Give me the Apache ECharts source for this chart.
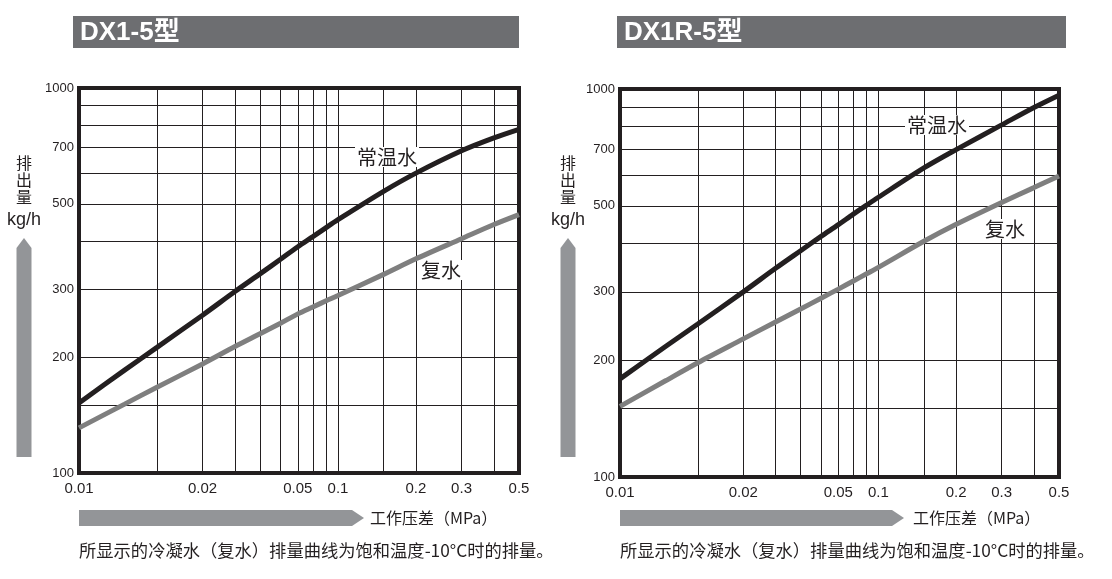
<!DOCTYPE html>
<html><head><meta charset="utf-8">
<script src="https://cdn.jsdelivr.net/npm/echarts@6/dist/echarts.min.js"></script>
<style>html,body{margin:0;padding:0;background:#fff}#c{width:1112px;height:579px}</style>
</head><body><div id="c"></div>
<script>
// ---- data ----
const pressure = [0.01, 0.015, 0.02, 0.03, 0.04, 0.05, 0.06, 0.07, 0.08, 0.09, 0.1, 0.15, 0.2, 0.3, 0.4, 0.5];
// DX1-5型
const dx1Normal     = [152, 185, 212, 257, 296, 329, 359, 387, 411, 434, 455, 539, 601, 687, 742, 781];
const dx1Condensate = [131, 151, 167, 192, 213, 230, 245, 259, 270, 280, 289, 328, 360, 406, 442, 469];
// DX1R-5型
const dx1rNormal     = [179, 217, 248, 300, 345, 383, 417, 447, 476, 502, 526, 626, 698, 808, 896, 964];
const dx1rCondensate = [152, 177, 197, 227, 251, 271, 289, 305, 320, 334, 347, 405, 448, 510, 557, 597];

const panelTitles = ['DX1-5型', 'DX1R-5型'];
const seriesNames = ['常温水', '复水'];
const xGridValues = [0.01, 0.02, 0.03, 0.04, 0.05, 0.06, 0.07, 0.08, 0.09, 0.1, 0.15, 0.2, 0.3, 0.4, 0.5];
const xLabelPositions = [0.01, 0.03, 0.07, 0.1, 0.2, 0.3, 0.5];
const xLabelTexts = ['0.01', '0.02', '0.05', '0.1', '0.2', '0.3', '0.5'];
const yGridValues = [100, 150, 200, 300, 400, 500, 600, 700, 800, 900, 1000];
const yLabelValues = [100, 200, 300, 500, 700, 1000];
const yAxisName = '排出量';
const yUnit = 'kg/h';
const xAxisName = '工作压差（MPa）';
const footnote = '所显示的冷凝水（复水）排量曲线为饱和温度-10°C时的排量。';

// ---- styling ----
const INK = '#231f20';
const GRAY_LINE = '#7f7f7f';
const ARROW = '#939598';
const BAR = '#6d6e71';
const LATIN = '"Liberation Sans", Arial, "Noto Sans CJK SC", sans-serif';
const CJK = '"Noto Sans CJK SC", "Liberation Sans", sans-serif';

function xLabelFor(v) {
  let best = 0, bd = Infinity;
  xLabelPositions.forEach((p, i) => {
    const d = Math.abs(Math.log10(p) - Math.log10(v));
    if (d < bd) { bd = d; best = i; }
  });
  return xLabelTexts[best];
}

const grids = [
  { left: 79, top: 88, width: 440, height: 385 },
  { left: 620, top: 89, width: 439, height: 388 }
];

function makeX(i) {
  return {
    type: 'log', gridIndex: i, min: 0.01, max: 0.5, logBase: 10,
    axisLine: { show: false },
    axisTick: { show: false, customValues: xGridValues },
    splitLine: { show: true, customValues: xGridValues, lineStyle: { color: INK, width: 1 } },
    axisLabel: {
      customValues: xLabelPositions, formatter: xLabelFor,
      color: INK, fontSize: 15, fontFamily: LATIN, margin: 8,
      showMinLabel: true, showMaxLabel: true
    }
  };
}
function makeY(i) {
  return {
    type: 'log', gridIndex: i, min: 100, max: 1000, logBase: 10,
    axisLine: { show: false },
    axisTick: { show: false, customValues: yGridValues },
    splitLine: { show: true, customValues: yGridValues, lineStyle: { color: INK, width: 1 } },
    axisLabel: {
      customValues: yLabelValues, formatter: v => String(Math.round(v)),
      color: INK, fontSize: 13, fontFamily: LATIN, margin: 5,
      showMinLabel: true, showMaxLabel: true
    }
  };
}
function makeSeries(name, panel, values, color) {
  return {
    name, type: 'line', xAxisIndex: panel, yAxisIndex: panel,
    data: pressure.map((p, k) => [p, values[k]]),
    smooth: 0.3, showSymbol: false, silent: true, z: 3,
    lineStyle: { color, width: 5, cap: 'butt' }
  };
}

const graphics = [];
function panelDecor(g, title, barX, barW, vArrowX, hArrowEnd, xNameX, normalLbl, condLbl) {
  graphics.push({ type: 'rect', shape: { x: barX, y: 16, width: barW, height: 32 }, style: { fill: BAR } });
  graphics.push({ type: 'text', x: barX + 7, y: 33, style: { text: title, fill: '#fff', fontSize: 26, fontWeight: 'bold', fontFamily: LATIN, verticalAlign: 'middle', align: 'left' } });
  graphics.push({ type: 'text', x: vArrowX, y: 154, style: { text: yAxisName.split('').join('\n'), fill: INK, fontSize: 16, lineHeight: 17, fontFamily: CJK, align: 'center', verticalAlign: 'top' } });
  graphics.push({ type: 'text', x: vArrowX, y: 220, style: { text: yUnit, fill: INK, fontSize: 18, fontFamily: LATIN, align: 'center', verticalAlign: 'middle' } });
  graphics.push({ type: 'polygon', shape: { points: [[vArrowX - 7.5, 457], [vArrowX + 7.5, 457], [vArrowX + 7.5, 248], [vArrowX, 238], [vArrowX - 7.5, 248]] }, style: { fill: ARROW } });
  graphics.push({ type: 'polygon', shape: { points: [[g.left, 510], [hArrowEnd - 12, 510], [hArrowEnd, 518], [hArrowEnd - 12, 526], [g.left, 526]] }, style: { fill: ARROW } });
  graphics.push({ type: 'text', x: xNameX, y: 518, style: { text: xAxisName, fill: INK, fontSize: 16, fontFamily: CJK, align: 'left', verticalAlign: 'middle' } });
  graphics.push({ type: 'text', x: g.left, y: 550, style: { text: footnote, fill: INK, fontSize: 17.3, fontFamily: CJK, align: 'left', verticalAlign: 'middle' } });
  graphics.push({ type: 'text', z: 100, x: normalLbl[0], y: normalLbl[1], style: { text: seriesNames[0], fill: INK, fontSize: 20, fontFamily: CJK, align: 'center', verticalAlign: 'middle', backgroundColor: '#fff', padding: [0, 2] } });
  graphics.push({ type: 'text', z: 100, x: condLbl[0], y: condLbl[1], style: { text: seriesNames[1], fill: INK, fontSize: 20, fontFamily: CJK, align: 'center', verticalAlign: 'middle', backgroundColor: '#fff', padding: [0, 2] } });
}
panelDecor(grids[0], panelTitles[0], 73, 446, 24, 364, 370, [387, 157], [441, 270]);
panelDecor(grids[1], panelTitles[1], 617, 449, 568, 904, 913, [937, 125], [1005, 229]);

const chart = echarts.init(document.getElementById('c'), null, { renderer: 'canvas' });
chart.setOption({
  animation: false,
  backgroundColor: '#fff',
  grid: grids.map(g => Object.assign({ show: true, borderColor: INK, borderWidth: 4, backgroundColor: 'transparent', containLabel: false, outerBoundsMode: 'none' }, g)),
  xAxis: [makeX(0), makeX(1)],
  yAxis: [makeY(0), makeY(1)],
  series: [
    makeSeries(seriesNames[0], 0, dx1Normal, INK),
    makeSeries(seriesNames[1], 0, dx1Condensate, GRAY_LINE),
    makeSeries(seriesNames[0], 1, dx1rNormal, INK),
    makeSeries(seriesNames[1], 1, dx1rCondensate, GRAY_LINE)
  ],
  graphic: graphics
});
</script></body></html>
